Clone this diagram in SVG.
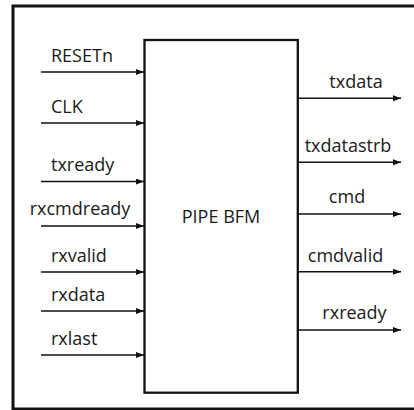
<svg xmlns="http://www.w3.org/2000/svg" width="414" height="410" viewBox="0 0 414 410">
<defs>
<marker id="ah" viewBox="0 0 8 6" refX="8" refY="3" markerWidth="8" markerHeight="6" markerUnits="userSpaceOnUse" orient="auto">
<path d="M0,0 L8,3 L0,6 Z" fill="#111"/>
</marker>
<style>
.lbl{font-family:"Open Sans","Liberation Sans",sans-serif;font-size:18px;fill:#1a1a1a}
.mid{text-anchor:middle}
.conn line{stroke:#111;stroke-width:1.4;marker-end:url(#ah)}
</style>
</defs>
<rect x="0" y="0" width="414" height="410" fill="#fff"/>
<g id="frame"><rect x="13" y="6" width="420" height="403" fill="none" stroke="#111" stroke-width="3"/></g>
<g id="pipe-bfm">
<rect x="144.5" y="40" width="153.3" height="352.7" fill="#fff" stroke="#111" stroke-width="2.3"/>
<text class="lbl mid" x="221" y="223">PIPE BFM</text>
</g>
<g id="connectors" class="conn">
<line x1="41" y1="72" x2="144" y2="72"/>
<line x1="41" y1="123" x2="144" y2="123"/>
<line x1="41" y1="181.5" x2="144" y2="181.5"/>
<line x1="41" y1="226" x2="144" y2="226"/>
<line x1="41" y1="272" x2="144" y2="272"/>
<line x1="41" y1="311" x2="144" y2="311"/>
<line x1="41" y1="355" x2="144" y2="355"/>
<line x1="298" y1="98.3" x2="401" y2="98.3"/>
<line x1="298" y1="162.3" x2="401" y2="162.3"/>
<line x1="298" y1="214" x2="401" y2="214"/>
<line x1="298" y1="271.7" x2="401" y2="271.7"/>
<line x1="298" y1="330" x2="401" y2="330"/>
</g>
<g id="in-RESETn"><text class="lbl" x="51" y="62">RESETn</text></g>
<g id="in-CLK"><text class="lbl" x="51" y="113">CLK</text></g>
<g id="in-txready"><text class="lbl" x="51" y="171">txready</text></g>
<g id="in-rxcmdready"><text class="lbl mid" x="80" y="215">rxcmdready</text></g>
<g id="in-rxvalid"><text class="lbl" x="51" y="262">rxvalid</text></g>
<g id="in-rxdata"><text class="lbl" x="51" y="300.5">rxdata</text></g>
<g id="in-rxlast"><text class="lbl" x="51" y="344.5">rxlast</text></g>
<g id="out-txdata"><text class="lbl mid" x="356" y="87.5">txdata</text></g>
<g id="out-txdatastrb"><text class="lbl mid" x="348" y="152">txdatastrb</text></g>
<g id="out-cmd"><text class="lbl mid" x="347" y="203">cmd</text></g>
<g id="out-cmdvalid"><text class="lbl mid" x="345.5" y="262.3">cmdvalid</text></g>
<g id="out-rxready"><text class="lbl mid" x="354.5" y="319.3">rxready</text></g>
</svg>
